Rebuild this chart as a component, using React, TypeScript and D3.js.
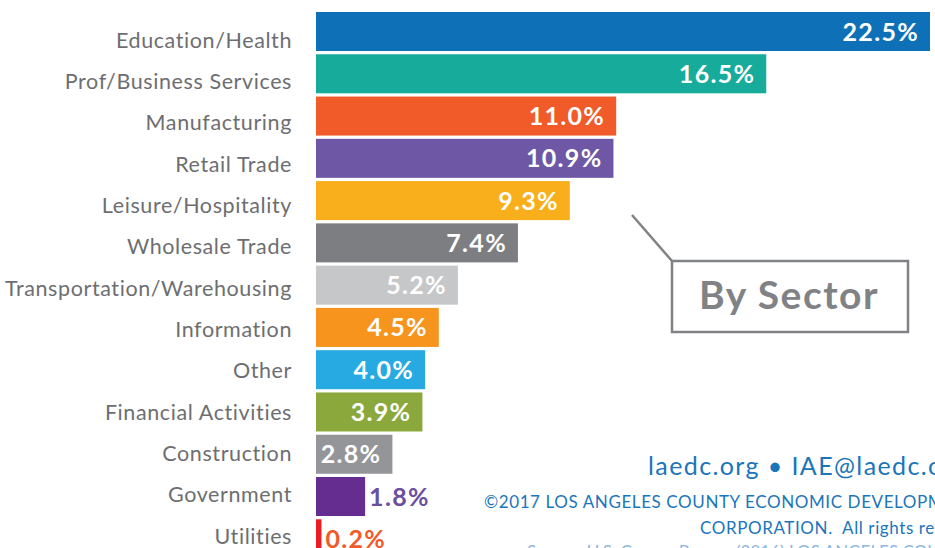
import React from "react";
import * as d3 from "d3";

const categories = [
  "Education/Health",
  "Prof/Business Services",
  "Manufacturing",
  "Retail Trade",
  "Leisure/Hospitality",
  "Wholesale Trade",
  "Transportation/Warehousing",
  "Information",
  "Other",
  "Financial Activities",
  "Construction",
  "Government",
  "Utilities",
];
const values = [22.5, 16.5, 11.0, 10.9, 9.3, 7.4, 5.2, 4.5, 4.0, 3.9, 2.8, 1.8, 0.2];
const barColors = [
  "#0E71B8", "#17AB9C", "#F15A29", "#6E57A4", "#F9AE1C", "#7D7E81", "#C6C7C9",
  "#F7941E", "#27AAE1", "#8BA83C", "#939598", "#662D91", "#ED1C24",
];
const outsideLabelColors = ["#6A4FA0", "#F15A29"];

const W = 935;
const H = 548;

export default function App() {
  const x = d3.scaleLinear().domain([0, 22.5]).range([316, 930]);
  const y = d3
    .scaleBand<string>()
    .domain(categories)
    .range([12, 558.3])
    .paddingInner(0.077)
    .paddingOuter(0);
  const yLabel = d3.scalePoint<string>().domain(categories).range([40, 536]);

  const font = "Lato, 'Noto Sans', sans-serif";

  return (
    <svg
      width={W}
      height={H}
      style={{ position: "absolute", left: 0, top: 0, background: "#fff" }}
      fontFamily={font}
    >
      {categories.map((c, i) => {
        const v = values[i];
        const by = y(c)!;
        const bh = y.bandwidth();
        const bx = x(0);
        const bw = x(v) - x(0);
        const cy = by + bh / 2;
        const inside = bw > 60;
        const outIdx = i - (categories.length - 2);
        return (
          <g key={c}>
            <rect x={bx} y={by} width={bw} height={bh} fill={barColors[i]} />
            <text
              x={292}
              y={yLabel(c)! + 7.5}
              textAnchor="end"
              fontSize={21.5}
              letterSpacing={0.6}
              fill="#6D6E71"
            >
              {c}
            </text>
            {inside ? (
              <text
                x={x(v) - 11}
                y={cy + 9}
                textAnchor="end"
                fontSize={25}
                fontWeight={700}
                letterSpacing={1.3}
                fill="#fff"
              >
                {v.toFixed(1) + "%"}
              </text>
            ) : (
              <text
                x={x(v) + 4}
                y={cy + 9}
                textAnchor="start"
                fontSize={25}
                fontWeight={700}
                letterSpacing={1.3}
                fill={outsideLabelColors[outIdx] || "#666"}
              >
                {v.toFixed(1) + "%"}
              </text>
            )}
          </g>
        );
      })}

      <line x1={632} y1={215} x2={672} y2={261} stroke="#808285" strokeWidth={2.5} />
      <rect x={672} y={261} width={236} height={71} fill="#fff" stroke="#808285" strokeWidth={2.5} />
      <text
        x={789}
        y={309}
        textAnchor="middle"
        fontSize={39}
        fontWeight={700}
        letterSpacing={1.5}
        fill="#808285"
      >
        By Sector
      </text>

      <text x={648} y={475} fontSize={25} fill="#1B75BB" letterSpacing={1.4}>
        laedc.org • IAE@laedc.org
      </text>
      <text x={484} y={508} fontSize={17} fill="#1B75BB" letterSpacing={0.6}>
        ©2017 LOS ANGELES COUNTY ECONOMIC DEVELOPMENT
      </text>
      <text
        x={700}
        y={534}
        fontSize={17}
        fill="#1B75BB"
        letterSpacing={0.6}
        style={{ whiteSpace: "pre" }}
      >
        {"CORPORATION.  All rights reserved."}
      </text>
      <text x={527} y={558} fontSize={17} fill="#8FB8DE">
        Source: U.S. Census Bureau (2016) LOS ANGELES COUNTY
      </text>
    </svg>
  );
}
